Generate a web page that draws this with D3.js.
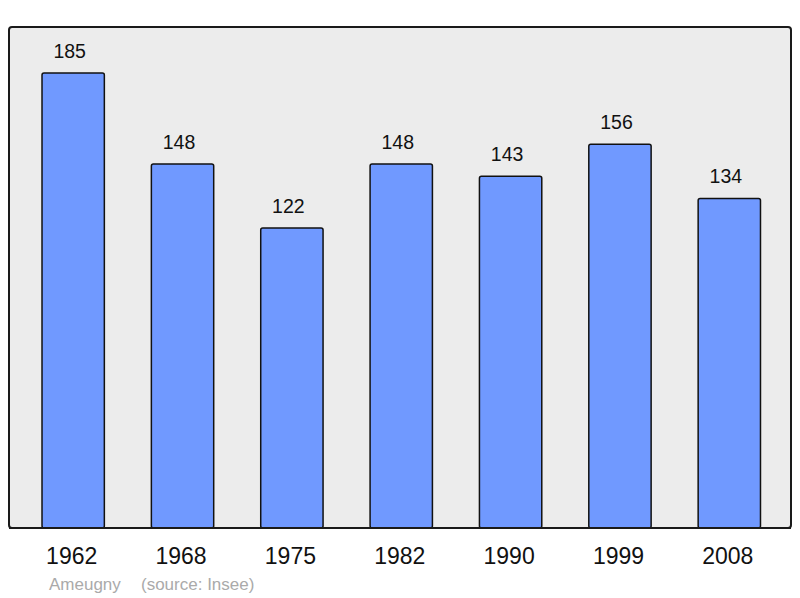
<!DOCTYPE html>
<html><head><meta charset="utf-8">
<script src="https://cdn.jsdelivr.net/npm/d3@7"></script>
<style>body{margin:0;background:#fff}svg{display:block}</style>
</head><body>
<script>
const years = ["1962","1968","1975","1982","1990","1999","2008"];
const population = [185,148,122,148,143,156,134];
const commune = "Ameugny";
const source = "(source: Insee)";

const W = 800, H = 598;
const panel = {x0: 9, y0: 27, x1: 791, y1: 528};
const svg = d3.select("body").append("svg").attr("width", W).attr("height", H);
const font = "Liberation Sans, Arial, sans-serif";

svg.append("rect").attr("x", panel.x0).attr("y", panel.y0)
  .attr("width", panel.x1 - panel.x0).attr("height", panel.y1 - panel.y0)
  .attr("rx", 3).attr("fill", "#ececec").attr("stroke", "#1a1a1a").attr("stroke-width", 2);

const x = d3.scaleBand().domain(years).range([18.5, 784]).paddingInner(0.43).paddingOuter(0.215);
const y = d3.scaleLinear().domain([0, 185]).range([panel.y1, 73]);

const g = svg.append("g");
g.selectAll("rect.bar").data(population).join("rect").attr("class","bar")
  .attr("x", (d,i) => x(years[i])).attr("width", x.bandwidth())
  .attr("y", d => y(d)).attr("height", d => panel.y1 - y(d))
  .attr("rx", 2)
  .attr("fill", "#7099ff").attr("stroke", "#111").attr("stroke-width", 1.5);

svg.append("line").attr("x1", panel.x0).attr("x2", panel.x1).attr("y1", panel.y1).attr("y2", panel.y1)
  .attr("stroke", "#1a1a1a").attr("stroke-width", 2);

g.selectAll("text.val").data(population).join("text").attr("class","val")
  .attr("x", (d,i) => x(years[i]) + x.bandwidth()/2 - 3.5).attr("y", d => y(d) - 15)
  .attr("text-anchor","middle").attr("font-family", font).attr("font-size", 19.5).attr("fill","#111")
  .text(d => d);

const xAxis = d3.axisBottom(x).tickSize(0).tickPadding(0);
const ax = svg.append("g").attr("transform", `translate(-1.5,${panel.y1})`).call(xAxis);
ax.select(".domain").remove();
ax.selectAll("text").attr("font-family", font).attr("font-size", 23).attr("fill", "#111")
  .attr("dy", null).attr("y", 36);

svg.append("text").attr("x", 49).attr("y", 590).attr("font-family", font).attr("font-size", 17)
  .attr("fill", "#aaaaaa").text(commune);
svg.append("text").attr("x", 141).attr("y", 590).attr("font-family", font).attr("font-size", 17)
  .attr("fill", "#aaaaaa").text(source);
</script>
</body></html>
